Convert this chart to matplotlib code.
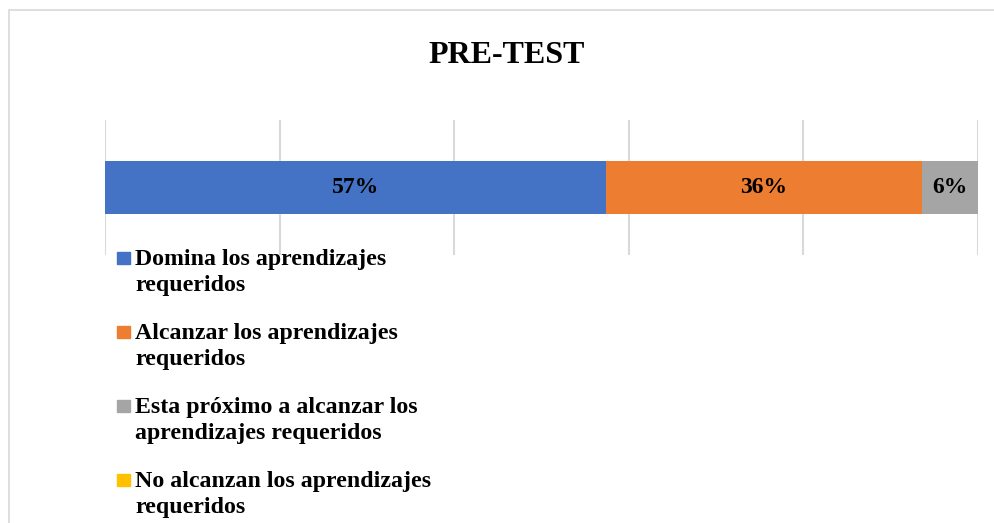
import matplotlib.pyplot as plt
from matplotlib.patches import Rectangle

# Data
categories = [
    ["Domina los aprendizajes", "requeridos"],
    ["Alcanzar los aprendizajes", "requeridos"],
    ["Esta próximo a alcanzar los", "aprendizajes requeridos"],
    ["No alcanzan los aprendizajes", "requeridos"],
]
values = [57.4, 36.2, 6.4, 0.0]
colors = ["#4472C4", "#ED7D31", "#A5A5A5", "#FFC000"]
title = "PRE-TEST"

plt.rcParams['font.family'] = ['Liberation Serif', 'DejaVu Serif']
plt.rcParams['font.weight'] = 'bold'

W, H = 994, 523
fig = plt.figure(figsize=(W / 100, H / 100), dpi=100)


def fx(px):
    return px / W


def fy(py):
    return 1 - py / H


# outer chart frame
fig.patches.append(Rectangle((fx(8.5), -0.1), 1.2, 1.1 - 10.5 / H,
                             transform=fig.transFigure, fill=False,
                             edgecolor="#d9d9d9", linewidth=1.2))

ax = fig.add_axes([fx(105), fy(255), fx(978 - 105), 135 / H])

left = 0
for cat, val, col in zip(categories, values, colors):
    ax.barh(0, val, left=left, height=0.785, color=col, label=" ".join(cat))
    if val > 0:
        ax.text(left + val / 2, 0, f"{val:.0f}%", ha="center", va="center",
                fontsize=17, fontweight="bold", color="black")
    left += val

ax.set_xlim(0, 100)
ax.set_ylim(-1, 1)
ax.set_xticks([0, 20, 40, 60, 80, 100])
ax.set_yticks([])
ax.tick_params(axis="x", length=0, labelbottom=False)
ax.grid(axis="x", color="#d9d9d9", linewidth=1.5)
ax.set_axisbelow(True)
for s in ax.spines.values():
    s.set_visible(False)

fig.text(fx(507), fy(63), title, ha="center", va="baseline",
         fontsize=23, fontweight="bold")

# legend, markers aligned to the first line of each entry
for i, (lines, col) in enumerate(zip(categories, colors)):
    base = 265.5 + 74 * i
    fig.patches.append(Rectangle((fx(117), fy(base - 1.5)), fx(12.5), 12.5 / H,
                                 transform=fig.transFigure, color=col))
    for j, line in enumerate(lines):
        fig.text(fx(135), fy(base + 25 * j), line, ha="left", va="baseline",
                 fontsize=17.2, fontweight="bold")

fig.savefig("out.png", dpi=100)
